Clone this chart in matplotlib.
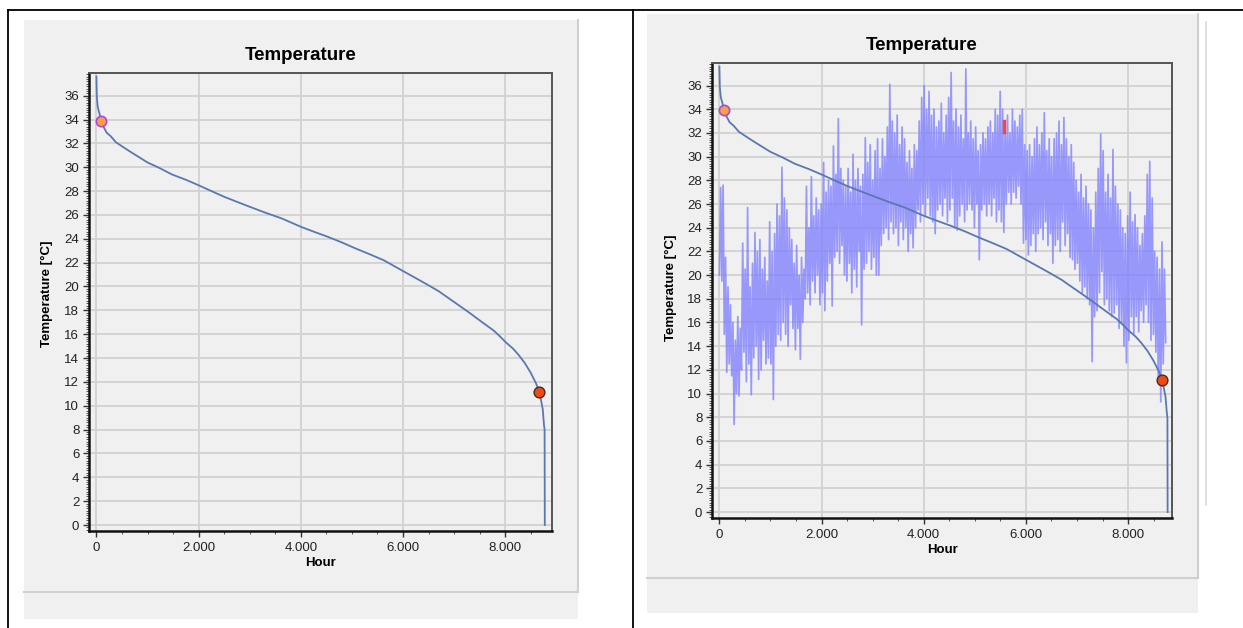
import numpy as np
import matplotlib
matplotlib.use("Agg")
import matplotlib.pyplot as plt
from matplotlib.ticker import MultipleLocator, FuncFormatter
from matplotlib.lines import Line2D
from matplotlib.patches import Rectangle

plt.rcParams["font.family"] = ["Liberation Sans", "DejaVu Sans"]

# sorted temperatures (duration curve), hour rank vs degC
duration_hours = [0, 8, 24, 40, 60, 88, 150, 200, 280, 380, 520, 700, 1000, 1250,
                  1475, 1750, 1994, 2250, 2512, 2750, 2990, 3300, 3630, 4004,
                  4250, 4507, 4800, 5065, 5350, 5623, 5998, 6250, 6500, 6700,
                  6899, 7100, 7298, 7550, 7776, 7900, 8016, 8150, 8255, 8380,
                  8494, 8600, 8670, 8734, 8758, 8770, 8774]
duration_temp = [37.6, 35.9, 35.1, 34.8, 34.5, 33.9, 33.3, 32.9, 32.6, 32.1,
                 31.7, 31.2, 30.4, 29.9, 29.4, 28.95, 28.5, 28.0, 27.5, 27.1,
                 26.7, 26.2, 25.7, 25.0, 24.6, 24.2, 23.7, 23.2, 22.7, 22.2,
                 21.3, 20.7, 20.1, 19.6, 19.0, 18.4, 17.8, 17.0, 16.3, 15.8,
                 15.3, 14.8, 14.3, 13.6, 12.8, 11.9, 11.15, 9.7, 8.4, 8.0, 0.0]

# highlighted points on the duration curve
max_mark = (88, 33.9)
min_mark = (8670, 11.15)

# temperature readings in chronological order, one every 24 h
step_hours = 24
chrono_temp = [
    20.0, 27.4, 19.5, 27.6, 15.0, 21.5, 11.8, 19.0, 12.5, 17.5,
    11.5, 16.0, 7.4, 14.5, 10.0, 16.5, 9.8, 15.5, 12.0, 22.7,
    13.5, 20.5, 11.0, 25.7, 12.5, 19.0, 9.9, 21.0, 13.0, 23.6,
    14.0, 22.0, 11.2, 23.0, 12.0, 20.5, 14.5, 21.5, 12.5, 19.5,
    13.0, 24.5, 12.5, 22.0, 9.5, 23.5, 14.0, 26.0, 15.0, 25.0,
    14.5, 29.1, 16.0, 26.5, 15.0, 25.5, 14.0, 24.0, 17.5, 23.0,
    15.5, 21.0, 13.7, 22.5, 15.5, 20.0, 12.9, 21.5, 16.0, 20.5,
    18.0, 27.5, 18.5, 24.0, 17.5, 28.3, 19.5, 25.0, 18.5, 26.5,
    20.0, 25.5, 17.5, 26.0, 18.5, 29.5, 17.0, 27.0, 19.5, 28.0,
    21.0, 27.5, 17.4, 30.9, 21.5, 28.5, 22.0, 33.2, 21.0, 29.0,
    22.5, 28.0, 20.0, 27.5, 19.5, 29.0, 21.0, 27.0, 18.5, 30.2,
    20.5, 28.0, 19.0, 29.0, 22.0, 27.5, 15.8, 28.5, 20.5, 31.6,
    21.0, 29.5, 22.0, 31.0, 20.5, 28.0, 21.5, 30.5, 20.0, 31.5,
    20.0, 29.0, 22.5, 31.5, 23.5, 30.0, 24.0, 32.5, 23.0, 36.1,
    24.5, 33.0, 23.5, 32.0, 24.0, 33.5, 22.5, 31.0, 24.5, 32.5,
    23.0, 31.5, 24.0, 29.5, 22.0, 30.5, 23.5, 29.0, 22.3, 31.0,
    24.0, 30.5, 25.5, 33.0, 24.5, 35.0, 26.0, 36.0, 25.0, 34.0,
    26.5, 35.5, 25.0, 33.5, 24.5, 34.0, 23.5, 32.5, 25.5, 33.0,
    26.0, 34.5, 25.0, 32.0, 26.5, 33.5, 24.5, 35.0, 25.5, 37.1,
    26.5, 33.0, 24.0, 34.0, 23.8, 32.5, 25.0, 33.5, 26.0, 31.5,
    24.5, 37.4, 25.5, 32.0, 26.0, 33.0, 25.5, 31.5, 24.0, 32.5,
    26.0, 30.5, 21.3, 31.0, 25.5, 32.0, 26.0, 31.5, 25.0, 32.5,
    26.0, 33.0, 25.0, 32.0, 26.5, 34.0, 24.5, 33.5, 25.5, 35.5,
    24.5, 34.0, 23.6, 32.5, 26.0, 33.5, 27.0, 32.0, 26.0, 34.0,
    27.0, 33.0, 26.5, 32.5, 27.5, 33.5, 26.0, 34.0, 22.7, 31.0,
    23.0, 30.5, 21.7, 31.0, 22.5, 30.0, 23.5, 31.5, 22.0, 32.5,
    23.5, 31.0, 24.0, 32.0, 23.0, 33.7, 24.5, 30.5, 22.5, 31.5,
    23.5, 30.0, 21.0, 31.5, 22.5, 32.0, 23.0, 33.0, 22.0, 31.0,
    24.5, 33.3, 22.5, 31.5, 23.5, 30.0, 21.5, 31.0, 21.3, 29.5,
    20.5, 28.0, 21.0, 27.0, 19.5, 28.5, 18.5, 26.5, 19.0, 27.5,
    18.0, 26.0, 17.5, 25.5, 12.7, 24.0, 16.5, 27.0, 17.0, 29.0,
    18.5, 31.9, 20.3, 30.5, 17.5, 27.0, 18.0, 28.5, 17.0, 26.5,
    16.5, 30.6, 16.8, 27.5, 17.5, 26.0, 15.5, 25.5, 16.0, 24.0,
    14.0, 23.5, 12.6, 25.0, 14.5, 27.0, 16.5, 24.5, 15.0, 25.1,
    16.5, 24.0, 15.2, 22.5, 17.0, 23.5, 16.0, 25.0, 17.5, 28.5,
    16.0, 29.6, 14.5, 26.5, 15.0, 22.0, 13.5, 21.5, 11.0, 20.5,
    9.3, 22.8, 12.5, 20.5, 14.3,
]
# short selected stretch drawn in red
selected_hour = 5575
selected_range = (32.1, 33.0)

W, H = 1243, 628
BG = "#f0f0f0"
GRID = "#d2d2d2"
CURVE = "#5a78b0"
SERIES = "#8282ff"


def px_rect(x0, y0, x1, y1):
    # pixel box (top-left origin) -> figure fraction rect
    return [x0 / W, 1 - y1 / H, (x1 - x0) / W, (y1 - y0) / H]


def fig_line(fig, xs, ys, **kw):
    fig.add_artist(Line2D([x / W for x in xs], [1 - y / H for y in ys],
                          transform=fig.transFigure, **kw))


def panel(fig, x0, y0, x1, y1, y2):
    fig.add_artist(Rectangle((x0 / W, 1 - y2 / H), (x1 - x0) / W, (y2 - y0) / H,
                             transform=fig.transFigure, facecolor=BG,
                             edgecolor="none", zorder=0))
    fig_line(fig, [x1, x1], [y0, y1], color="#d0d0d0", lw=1.5)
    fig_line(fig, [x0, x1], [y1, y1], color="#d0d0d0", lw=1.5)


def style_axes(ax, xmax):
    ax.set_facecolor(BG)
    ax.set_xlim(-145, xmax)
    ax.set_ylim(-0.5, 37.9)
    ax.xaxis.set_major_locator(MultipleLocator(2000))
    ax.xaxis.set_minor_locator(MultipleLocator(500))
    ax.yaxis.set_major_locator(MultipleLocator(2))
    ax.yaxis.set_minor_locator(MultipleLocator(0.2))
    ax.xaxis.set_major_formatter(
        FuncFormatter(lambda v, p: f"{int(v):,}".replace(",", ".")))
    ax.grid(True, which="major", color=GRID, lw=1.3)
    ax.set_axisbelow(True)
    ax.tick_params(which="major", length=4, width=1, labelsize=9.5,
                   colors="#333333", labelcolor="#222222", pad=3)
    ax.tick_params(which="minor", length=2.5, width=0.7, colors="#555555")
    ax.tick_params(axis="x", which="major", pad=4)
    for side in ("left", "bottom"):
        ax.spines[side].set_color("#111111")
        ax.spines[side].set_linewidth(1.8)
    for side in ("top", "right"):
        ax.spines[side].set_color("#555555")
        ax.spines[side].set_linewidth(1.4)


def draw_duration(ax):
    ax.plot(duration_hours, duration_temp, color=CURVE, lw=1.3, zorder=4)
    ax.scatter([max_mark[0]], [max_mark[1]], s=55, facecolor="#f5a23a",
               edgecolor="#b044e0", linewidth=1.2, zorder=6)
    ax.scatter([min_mark[0]], [min_mark[1]], s=60, facecolor="#ee4a12",
               edgecolor="#4a2a20", linewidth=1.0, zorder=6)


fig = plt.figure(figsize=(W / 100, H / 100), dpi=100, facecolor="white")

# surrounding table lines
fig_line(fig, [8, 1243], [10, 10], color="black", lw=1.3)
fig_line(fig, [8, 8], [10, 628], color="black", lw=1.3)
fig_line(fig, [633, 633], [10, 628], color="black", lw=1.3)

panel(fig, 24, 20, 578, 592, 619)
panel(fig, 647, 14, 1198, 578, 613)
fig_line(fig, [1206, 1206], [22, 505], color="#dcdcdc", lw=1.2)

# left: duration curve only
ax1 = fig.add_axes(px_rect(89, 73, 552, 531))
style_axes(ax1, 8915)
draw_duration(ax1)
fig.text(301 / W, 1 - 55 / H, "Temperature", ha="center", va="center",
         fontsize=13.5, fontweight="bold")
fig.text(47 / W, 1 - 294 / H, "Temperature [°C]", rotation=90, ha="center",
         va="center", fontsize=9.5, fontweight="bold")
fig.text(321 / W, 1 - 563 / H, "Hour", ha="center", va="center",
         fontsize=9.5, fontweight="bold")

# right: chronological series plus duration curve
ax2 = fig.add_axes(px_rect(712, 63, 1171.5, 518))
style_axes(ax2, 8850)
hours = np.arange(len(chrono_temp)) * step_hours
ax2.plot(hours, chrono_temp, color=SERIES, lw=1.25, alpha=0.8, zorder=3)
ax2.plot([selected_hour, selected_hour], selected_range, color="#f04848",
         lw=2.5, zorder=3.5)
draw_duration(ax2)
fig.text(922 / W, 1 - 46 / H, "Temperature", ha="center", va="center",
         fontsize=13.5, fontweight="bold")
fig.text(671 / W, 1 - 288 / H, "Temperature [°C]", rotation=90, ha="center",
         va="center", fontsize=9.5, fontweight="bold")
fig.text(943 / W, 1 - 550 / H, "Hour", ha="center", va="center",
         fontsize=9.5, fontweight="bold")

fig.savefig("out.png", dpi=100, facecolor="white")
